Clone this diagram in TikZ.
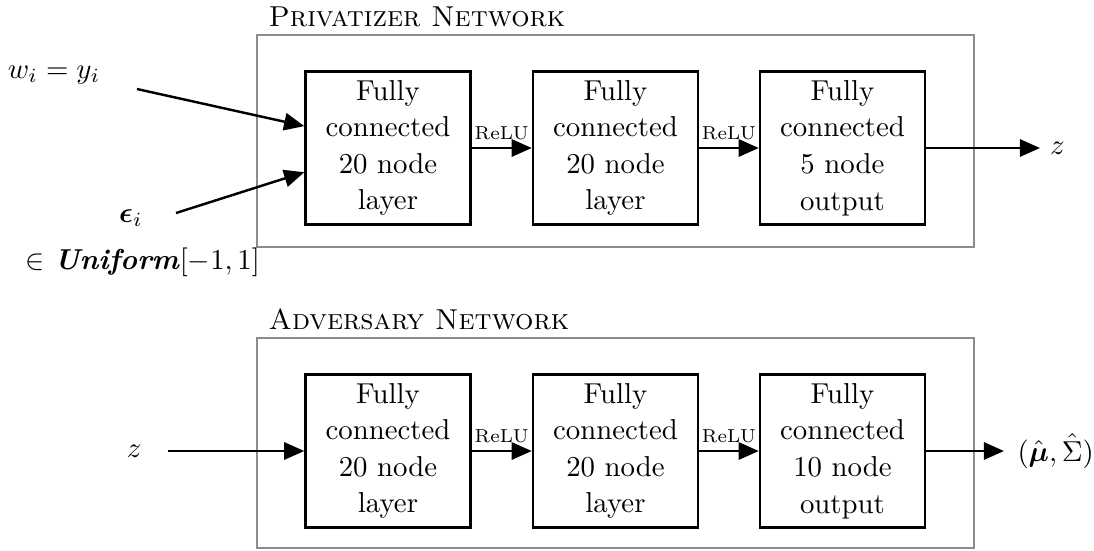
\documentclass[tikz,border=0pt]{standalone}
\usepackage{amsmath}
\usetikzlibrary{arrows.meta}
\begin{document}
\begin{tikzpicture}[x=0.3472pt,y=-0.3472pt,
  fcbox/.style={draw, line width=0.85pt, minimum width=57.3pt, minimum height=53.1pt,
    inner sep=0pt, align=center, font={\fontsize{10}{12.7}\selectfont}},
  frame/.style={draw=black!45, line width=0.75pt},
  conn/.style={line width=0.85pt, -{Triangle[length=7pt,width=6pt]}},
  relu/.style={midway, above, font={\fontsize{6.5}{8}\selectfont}, inner sep=2.5pt},
  title/.style={anchor=base west, inner sep=0pt}]
\useasboundingbox (0,0) rectangle (1094,550);

% ---- Privatizer network ----
\node[title] (ptitle) at (268,26) {\textsc{Privatizer Network}};
\draw[frame] (257,35) rectangle (974,247);
\node[fcbox] (p1) at (388,148) {Fully\\connected\\20 node\\layer};
\node[fcbox] (p2) at (615.5,148) {Fully\\connected\\20 node\\layer};
\node[fcbox] (p3) at (842.5,148) {Fully\\connected\\5 node\\output};
\draw[conn] (p1) -- (p2) node[relu] {ReLU};
\draw[conn] (p2) -- (p3) node[relu] {ReLU};
\node[anchor=west] (zout) at (1040,148) {$z$};
\draw[conn] (p3) -- (zout);

\node (w) at (54,75) {$w_i = y_i$};
\coordinate (wstart) at (137,89);
\draw[conn] (wstart) -- ([yshift=7.6pt]p1.west);
\node (eps) at (131,218) {$\boldsymbol{\epsilon}_i$};
\node[anchor=west, inner sep=0pt] (unif) at (25,262) {$\in$ \textbf{\textit{Uniform}}$[-1,1]$};
\coordinate (estart) at (176,213);
\draw[conn] (estart) -- ([yshift=-8.4pt]p1.west);

% ---- Adversary network ----
\node[title] (atitle) at (268,329) {\textsc{Adversary Network}};
\draw[frame] (257,338) rectangle (974,548);
\node[fcbox] (a1) at (388,451) {Fully\\connected\\20 node\\layer};
\node[fcbox] (a2) at (615.5,451) {Fully\\connected\\20 node\\layer};
\node[fcbox] (a3) at (842.5,451) {Fully\\connected\\10 node\\output};
\draw[conn] (a1) -- (a2) node[relu] {ReLU};
\draw[conn] (a2) -- (a3) node[relu] {ReLU};
\node[anchor=east, inner xsep=9pt] (zin) at (168,451) {$z$};
\draw[conn] (zin) -- (a1);
\node[anchor=west, inner xsep=4.5pt] (out) at (1004,451) {$(\hat{\boldsymbol{\mu}}, \hat{\Sigma})$};
\draw[conn] (a3) -- (out);
\end{tikzpicture}
\end{document}
